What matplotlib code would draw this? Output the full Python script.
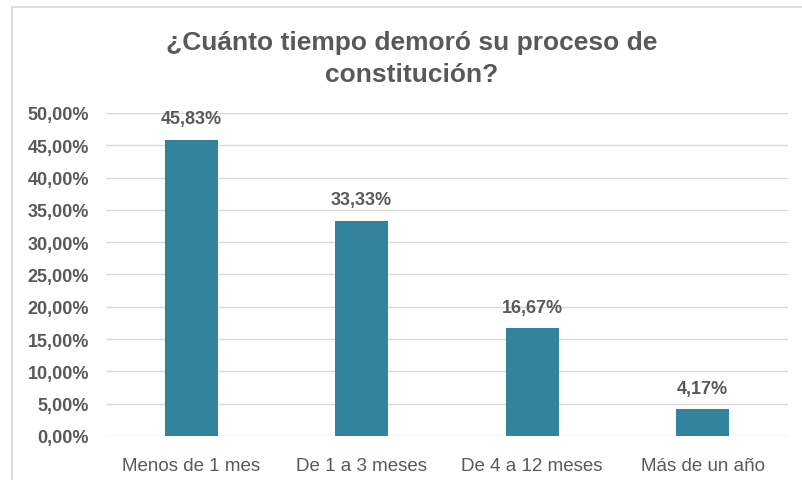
import matplotlib
matplotlib.use("Agg")
import matplotlib.pyplot as plt
from matplotlib.patches import Rectangle
from matplotlib.ticker import FuncFormatter

# datos de la encuesta
categorias = ["Menos de 1 mes", "De 1 a 3 meses", "De 4 a 12 meses", "Más de un año"]
porcentajes = [45.83, 33.33, 16.67, 4.17]
titulo = "¿Cuánto tiempo demoró su proceso de\nconstitución?"

gris = "#595959"
azul = "#31849B"

plt.rcParams['font.family'] = ['Liberation Sans', 'DejaVu Sans']

fig = plt.figure(figsize=(8.02, 4.81), dpi=100)
ax = fig.add_axes([0.132, 0.0915, 0.8505, 0.6715])

x = range(len(categorias))
bars = ax.bar(x, porcentajes, width=0.31, color=azul, zorder=3)

# etiquetas de valor encima de cada barra
for b, v in zip(bars, porcentajes):
    ax.annotate(f"{v:.2f}%".replace(".", ","), (b.get_x() + b.get_width() / 2, v),
                xytext=(0, 9), textcoords="offset points", ha="center", va="bottom",
                fontsize=13, fontweight="bold", color=gris)

ax.set_xlim(-0.5, len(categorias) - 0.5)
ax.set_ylim(0, 50)
ax.set_yticks(range(0, 51, 5))
ax.yaxis.set_major_formatter(FuncFormatter(lambda v, p: f"{v:.2f}%".replace(".", ",")))
ax.set_xticks(list(x))
ax.set_xticklabels(categorias)

ax.grid(axis="y", color="#D9D9D9", lw=1, zorder=0)
for s in ax.spines.values():
    s.set_visible(False)
ax.tick_params(axis="both", length=0, colors=gris)
ax.tick_params(axis="x", pad=15, labelsize=13.5)
ax.tick_params(axis="y", pad=12, labelsize=13)
for t in ax.get_yticklabels():
    t.set_fontweight("bold")

fig.text(0.513, 0.935, titulo, ha="center", va="top", fontsize=19,
         fontweight="bold", color=gris, linespacing=1.4)

# borde del grafico
fig.patches.append(Rectangle((12 / 802, -0.05), 1.0, 1 - 8 / 481 + 0.05,
                             transform=fig.transFigure, fill=False,
                             edgecolor="#D9D9D9", lw=1.2))

fig.savefig("out.png", dpi=100)
